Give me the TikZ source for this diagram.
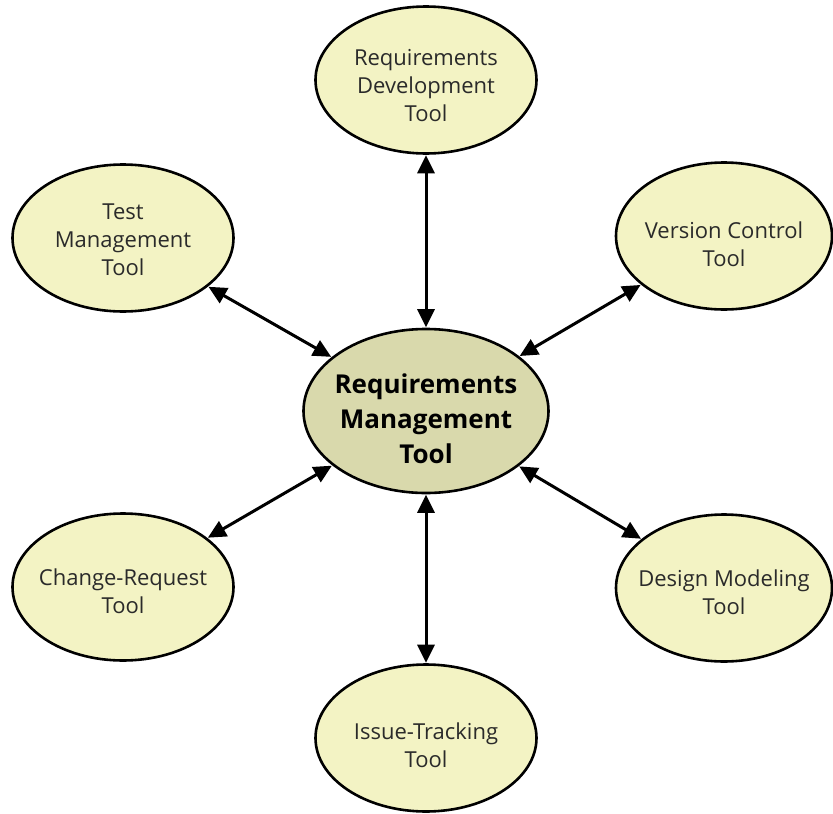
\documentclass[tikz,border=0pt]{standalone}
\usepackage{fontspec}
\setmainfont{Open Sans}
\usetikzlibrary{shapes.geometric,arrows.meta}
\definecolor{toolfill}{HTML}{F3F3C4}
\definecolor{corefill}{HTML}{D9D9AC}
\definecolor{txt}{HTML}{2A2A2A}
\tikzset{
  tool/.style={ellipse,draw=black,line width=2.6pt,fill=toolfill,minimum width=221pt,minimum height=147pt,inner sep=0pt},
  core/.style={ellipse,draw=black,line width=2.6pt,fill=corefill,minimum width=245pt,minimum height=164pt,inner sep=0pt},
  toollabel/.style={inner sep=0pt,align=center,text=txt,font=\fontsize{22}{28}\selectfont},
  corelabel/.style={inner sep=0pt,align=center,text=black,font=\fontsize{26}{35}\selectfont\bfseries},
  link/.style={line width=3pt,{Triangle[length=18pt,width=17pt]}-{Triangle[length=18pt,width=17pt]},shorten <=0.5pt,shorten >=0.5pt}
}
\begin{document}
\begin{tikzpicture}[x=1pt,y=-1pt]
\useasboundingbox (0,0) rectangle (833,814);
\node[core] (rm) at (426,411) {};
\node[tool] (rd) at (426,80) {};
\node[tool] (tm) at (123,238) {};
\node[tool,minimum width=216pt] (vc) at (724,236) {};
\node[tool] (cr) at (123,587) {};
\node[tool,minimum width=216pt] (dm) at (724,588) {};
\node[tool] (it) at (426,738) {};
\node[corelabel] (rm-t) at ([yshift=-8pt]rm.center) {Requirements\\Management\\Tool};
\node[toollabel] (rd-t) at ([yshift=-6pt]rd.center) {Requirements\\Development\\Tool};
\node[toollabel] (tm-t) at ([yshift=-2pt]tm.center) {Test\\Management\\Tool};
\node[toollabel] (vc-t) at ([yshift=-8pt]vc.center) {Version Control\\Tool};
\node[toollabel] (cr-t) at ([yshift=-4pt]cr.center) {Change-Request\\Tool};
\node[toollabel] (dm-t) at ([yshift=-4pt]dm.center) {Design Modeling\\Tool};
\node[toollabel] (it-t) at ([yshift=-7pt]it.center) {Issue-Tracking\\Tool};
\draw[link] (rd) -- (rm);
\draw[link] (tm) -- (rm);
\draw[link] (vc) -- (rm);
\draw[link] (cr) -- (rm);
\draw[link] (dm) -- (rm);
\draw[link] (it) -- (rm);
\end{tikzpicture}
\end{document}
